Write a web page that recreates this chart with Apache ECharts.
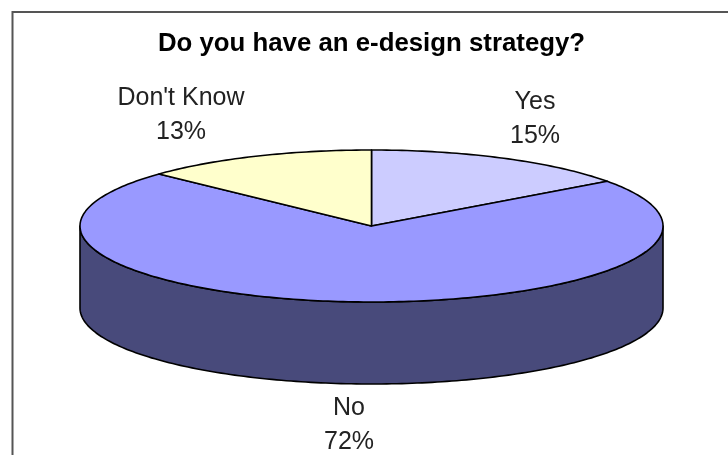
<!DOCTYPE html>
<html>
<head>
<meta charset="utf-8">
<style>html,body{margin:0;padding:0;background:#fff}#chart{width:728px;height:455px}</style>
<script src="https://cdn.jsdelivr.net/npm/echarts@6/dist/echarts.min.js"></script>
</head>
<body>
<div id="chart"></div>
<script>
// Survey answers, in clockwise order from twelve o'clock
const categories = ['Yes', 'No', "Don't Know"];
const shares = [15, 72, 13];

// Disc geometry and per-slice appearance
const disc = { cx: 371.5, cy: 226, rx: 291.5, ry: 76, depth: 82 };
const topColors = ['#ccccff', '#9999ff', '#ffffcc'];
const sideColors = ['#66667f', '#484a7b', '#7f7f66'];
const labelAnchors = [[535, 119], [349, 425], [181, 115]];

const total = shares.reduce((a, b) => a + b, 0);
const rimPoint = (deg, drop) => {
  const t = deg * Math.PI / 180;
  return [disc.cx + disc.rx * Math.sin(t), disc.cy - disc.ry * Math.cos(t) + drop];
};
const arc = (from, to, drop) => {
  const n = Math.max(2, Math.ceil(Math.abs(to - from)));
  const pts = [];
  for (let i = 0; i <= n; i++) pts.push(rimPoint(from + (to - from) * i / n, drop));
  return pts;
};

function renderSlice(params, api) {
  const i = params.dataIndex;
  const before = shares.slice(0, i).reduce((a, b) => a + b, 0);
  const start = before / total * 360;
  const end = start + api.value(0) / total * 360;
  const line = { stroke: '#000', lineWidth: 1.6, lineJoin: 'round' };
  const children = [];

  // Wall of the disc: only the part of the rim facing the viewer
  const wallFrom = Math.max(start, 90);
  const wallTo = Math.min(end, 270);
  if (wallFrom < wallTo) {
    children.push({
      type: 'polygon',
      shape: { points: arc(wallFrom, wallTo, 0).concat(arc(wallTo, wallFrom, disc.depth)) },
      style: Object.assign({ fill: sideColors[i] }, line)
    });
  }
  // Upper face of the slice
  children.push({
    type: 'polygon',
    shape: { points: [[disc.cx, disc.cy]].concat(arc(start, end, 0)) },
    style: Object.assign({ fill: topColors[i] }, line)
  });
  // Category name and share
  children.push({
    type: 'text',
    x: labelAnchors[i][0],
    y: labelAnchors[i][1],
    style: {
      text: categories[i] + '\n' + api.value(0) + '%',
      fill: '#222',
      font: '25px "Liberation Sans", Arial, sans-serif',
      lineHeight: 34,
      align: 'center',
      verticalAlign: 'middle'
    }
  });
  return { type: 'group', children };
}

const chart = echarts.init(document.getElementById('chart'), null, { renderer: 'canvas' });
chart.setOption({
  animation: false,
  backgroundColor: '#ffffff',
  title: {
    text: 'Do you have an e-design strategy?',
    left: 366.5,
    top: 26,
    textAlign: 'center',
    textStyle: { fontFamily: '"Liberation Sans", Arial, sans-serif', fontWeight: 'bold', fontSize: 25.8, color: '#000' }
  },
  graphic: [{
    type: 'rect',
    silent: true,
    shape: { x: 12.5, y: 12, width: 800, height: 600 },
    style: { fill: 'none', stroke: '#555', lineWidth: 2 }
  }],
  series: [{
    type: 'custom',
    coordinateSystem: 'none',
    silent: true,
    data: shares.map((v, i) => ({ name: categories[i], value: [v] })),
    renderItem: renderSlice
  }]
});
</script>
</body>
</html>
